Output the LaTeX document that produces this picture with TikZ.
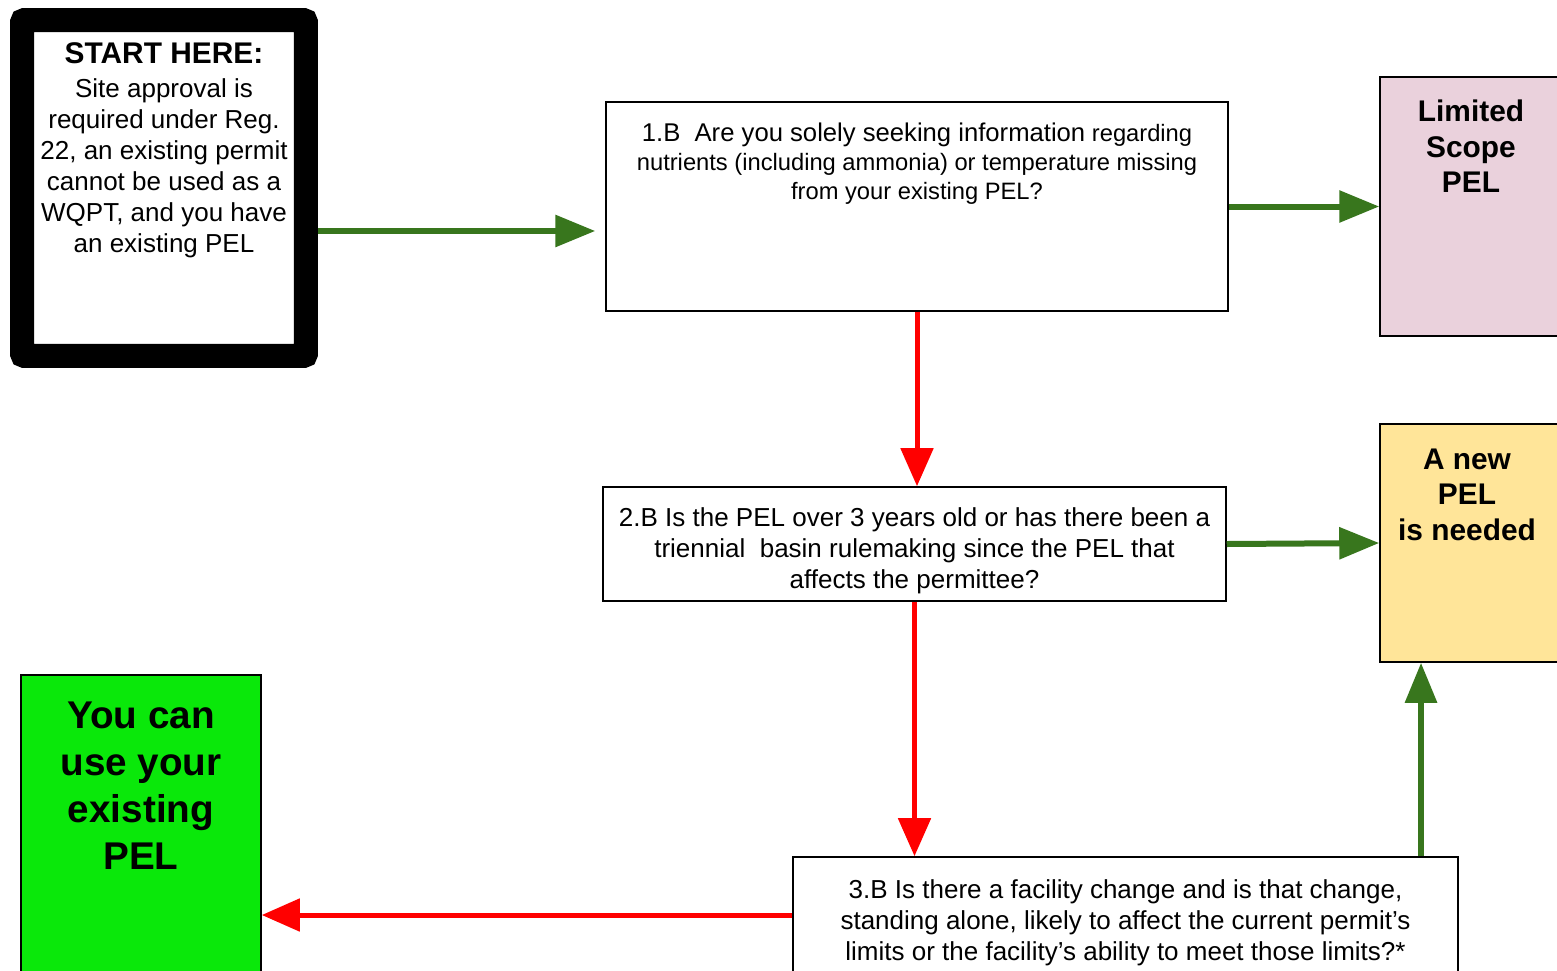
\documentclass[tikz,border=0pt]{standalone}
\usepackage{fontspec}
\setmainfont{Liberation Sans}
\usetikzlibrary{positioning,arrows.meta}

\definecolor{arrowgreen}{HTML}{38761D}
\definecolor{arrowred}{HTML}{FF0000}
\definecolor{pelpink}{HTML}{EAD1DC}
\definecolor{pelyellow}{HTML}{FFE599}
\definecolor{pelgreen}{RGB}{10,232,10}

\begin{document}
\begin{tikzpicture}[x=0.02cm, y=-0.02cm,
    plainbox/.style = {draw, rectangle, line width=0.9pt, inner sep=0pt},
    startbox/.style = {draw, rectangle, line width=0.48cm, rounded corners=0.05cm, minimum width=5.68cm, minimum height=6.72cm},
    question/.style = {plainbox, fill=white},
    outcome/.style = {plainbox, minimum width=3.64cm},
    words/.style = {align=center, inner sep=0pt},
    asking/.style = {words, font=\fontsize{14.8}{17.6}\selectfont},
    yesarrow/.style = {color=arrowgreen, line width=0.12cm, -{Triangle[length=0.8cm, width=0.62cm]}},
    noarrow/.style = {color=arrowred, line width=0.1cm, -{Triangle[length=0.76cm, width=0.64cm]}}]

    \useasboundingbox (0,0) rectangle (1557,970);
    \clip (0,0) rectangle (1557,970);
    \fill[white] (0,0) rectangle (1557,970);

    % start box
    \node[startbox] (start) at (164,188) {};
    \node[words, font=\fontsize{14.8}{17.6}\selectfont, below=0.68cm of start.north] (starttext)
        {{\fontsize{17}{20}\selectfont\bfseries START HERE:}\\[2pt]
         Site approval is\\ required under Reg.\\ 22, an existing permit\\
         cannot be used as a\\ WQPT, and you have\\ an existing PEL};

    % questions
    \node[question, minimum width=12.44cm, minimum height=4.18cm] (q1) at (917,206.5) {};
    \node[words, font=\fontsize{13.5}{16.5}\selectfont, below=0.42cm of q1.north] (q1text)
        {{\fontsize{14.6}{17}\selectfont 1.B\ \ Are you solely seeking information} regarding\\
         nutrients (including ammonia) or temperature missing\\
         from your existing PEL?};

    \node[question, minimum width=12.46cm, minimum height=2.28cm] (q2) at (914.5,544) {};
    \node[asking] (q2text) at ([yshift=-0.14cm]q2.center)
        {2.B Is the PEL over 3 years old or has there been a\\
         triennial\ \ basin rulemaking since the PEL that\\
         affects the permittee?};

    \node[question, minimum width=13.3cm, minimum height=2.32cm] (q3) at (1125.5,915) {};
    \node[asking] (q3text) at ([yshift=-0.16cm]q3.center)
        {3.B Is there a facility change and is that change,\\
         standing alone, likely to affect the current permit's\\
         limits or the facility's ability to meet those limits?*};

    % outcomes
    \node[outcome, fill=pelpink, minimum height=5.18cm] (limited) at (1471,206.5) {};
    \node[words, font=\fontsize{17}{20.4}\selectfont\bfseries, below=0.46cm of limited.north] (limitedtext)
        {Limited\\ Scope\\ PEL};

    \node[outcome, fill=pelyellow, minimum height=4.76cm] (newpel) at (1471,543) {};
    \node[words, font=\fontsize{17}{20.4}\selectfont\bfseries, below=0.5cm of newpel.north, xshift=-0.08cm] (newpeltext)
        {A new\\ PEL\\ is needed};

    \node[plainbox, fill=pelgreen, minimum width=4.8cm, minimum height=9.6cm] (usebox) at (141,915) {};
    \node[words, font=\fontsize{22}{26.8}\selectfont\bfseries, below=0.54cm of usebox.north] (useboxtext)
        {You can\\ use your\\ existing\\ PEL};

    % connectors
    \draw[yesarrow, shorten >=0.2cm] ([yshift=-0.86cm]start.east) coordinate (startout) -- (startout -| q1.west);
    \draw[yesarrow] (q1.east) -- (limited.west);
    \draw[noarrow] (q1.south) -- (q1.south |- q2.north);
    \draw[yesarrow] (q2.east) -- (newpel.west);
    \draw[noarrow] (q2.south) -- (q2.south |- q3.north);
    \draw[noarrow] (q3.west) -- (q3.west -| usebox.east);
    \coordinate (upfoot) at ([xshift=-1cm]newpel.south);
    \draw[yesarrow] (upfoot |- q3.north) -- (upfoot);
\end{tikzpicture}
\end{document}
